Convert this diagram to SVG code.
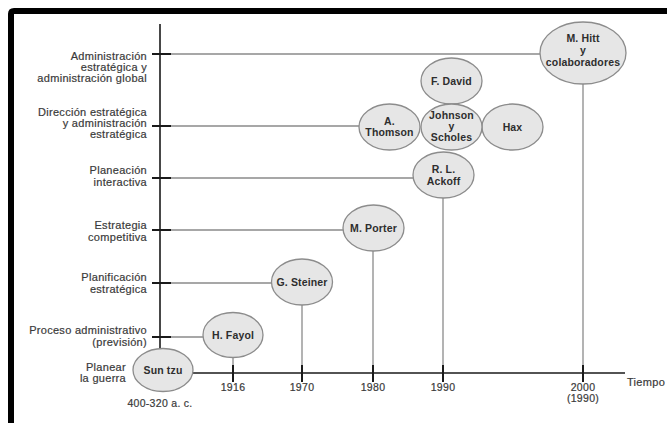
<svg xmlns="http://www.w3.org/2000/svg" width="667" height="423" viewBox="0 0 667 423">
<style>
.lbl{font-family:"Liberation Sans",Arial,sans-serif;font-size:11px;letter-spacing:0.3px;fill:#3a3a3a;stroke:#3a3a3a;stroke-width:0.2;text-anchor:end}
.yr{font-family:"Liberation Sans",Arial,sans-serif;font-size:10.5px;letter-spacing:0.3px;fill:#3a3a3a;stroke:#3a3a3a;stroke-width:0.2;text-anchor:middle}
.nt{font-family:"Liberation Sans",Arial,sans-serif;font-size:10.5px;letter-spacing:0.15px;font-weight:bold;fill:#2e2e2e;text-anchor:middle}
.node ellipse{fill:#e6e6e6;stroke:#8c8c8c;stroke-width:1.3}
.conn{stroke:#8a8a8a;stroke-width:1.3;fill:none}
.axis{stroke:#1a1a1a;stroke-width:1.6;fill:none}
.tick{stroke:#1a1a1a;stroke-width:2;fill:none}
</style>
<rect x="0" y="0" width="667" height="423" fill="#fff"/>
<path d="M11 423 V14 Q11 11 14 11 H667" stroke="#000" stroke-width="6" fill="none"/>

<g id="connectors">
<line class="conn" x1="160" y1="54" x2="540" y2="54"/>
<line class="conn" x1="160" y1="126" x2="359" y2="126"/>
<line class="conn" x1="160" y1="178" x2="413" y2="178"/>
<line class="conn" x1="160" y1="230" x2="343" y2="230"/>
<line class="conn" x1="160" y1="283" x2="272" y2="283"/>
<line class="conn" x1="160" y1="337" x2="203" y2="337"/>
<line class="conn" x1="583" y1="84" x2="583" y2="373"/>
<line class="conn" x1="443" y1="198" x2="443" y2="373"/>
<line class="conn" x1="373" y1="251" x2="373" y2="373"/>
<line class="conn" x1="302" y1="305" x2="302" y2="373"/>
<line class="conn" x1="233" y1="357" x2="233" y2="373"/>
<line class="axis" x1="160" y1="24" x2="160" y2="350"/>
<line class="axis" x1="192" y1="373" x2="625" y2="373"/>
<path class="tick" d="M152 54H171M152 126H171M152 178H171M152 230H171M152 283H171M152 337H171"/>
<path class="tick" d="M233 365V382M302 365V382M373 365V382M443 365V382M583 365V382"/>
</g>

<g id="labels">
<text class="lbl"><tspan x="147" y="60">Administración</tspan><tspan x="147" y="71">estratégica y</tspan><tspan x="147" y="82">administración global</tspan></text>
<text class="lbl"><tspan x="147" y="116">Dirección estratégica</tspan><tspan x="147" y="127">y administración</tspan><tspan x="147" y="138">estratégica</tspan></text>
<text class="lbl"><tspan x="147" y="174">Planeación</tspan><tspan x="147" y="186">interactiva</tspan></text>
<text class="lbl"><tspan x="147" y="229">Estrategia</tspan><tspan x="147" y="241">competitiva</tspan></text>
<text class="lbl"><tspan x="147" y="281">Planificación</tspan><tspan x="147" y="293">estratégica</tspan></text>
<text class="lbl"><tspan x="147" y="334">Proceso administrativo</tspan><tspan x="147" y="346">(previsión)</tspan></text>
<text class="lbl"><tspan x="126" y="371">Planear</tspan><tspan x="126" y="382">la guerra</tspan></text>
<text class="yr" x="160" y="407">400-320 a. c.</text>
<text class="yr" x="233" y="391">1916</text>
<text class="yr" x="302" y="391">1970</text>
<text class="yr" x="373" y="391">1980</text>
<text class="yr" x="443" y="391">1990</text>
<text class="yr"><tspan x="583" y="391">2000</tspan><tspan x="583" y="402">(1990)</tspan></text>
<text class="lbl" x="627" y="386" style="text-anchor:start">Tiempo</text>
</g>

<g id="suntzu" class="node"><ellipse cx="163" cy="370" rx="30" ry="21.5"/><text class="nt" x="163" y="374">Sun tzu</text></g>
<g id="fayol" class="node"><ellipse cx="233" cy="335" rx="30" ry="22.5"/><text class="nt" x="233" y="339">H. Fayol</text></g>
<g id="steiner" class="node"><ellipse cx="302" cy="282" rx="30.5" ry="23"/><text class="nt" x="302" y="286">G. Steiner</text></g>
<g id="porter" class="node"><ellipse cx="373.5" cy="228" rx="30.5" ry="23"/><text class="nt" x="373.5" y="232">M. Porter</text></g>
<g id="ackoff" class="node"><ellipse cx="443.5" cy="175" rx="30.5" ry="23"/><text class="nt"><tspan x="443.5" y="173">R. L.</tspan><tspan x="443.5" y="185">Ackoff</tspan></text></g>
<g id="thomson" class="node"><ellipse cx="389.5" cy="127" rx="30.5" ry="23"/><text class="nt"><tspan x="389.5" y="125">A.</tspan><tspan x="389.5" y="136">Thomson</tspan></text></g>
<g id="hax" class="node"><ellipse cx="512.5" cy="127" rx="30.5" ry="23"/><text class="nt" x="512.5" y="131">Hax</text></g>
<g id="david" class="node"><ellipse cx="451.5" cy="81" rx="30.5" ry="23"/><text class="nt" x="451.5" y="85">F. David</text></g>
<g id="johnson" class="node"><ellipse cx="451.5" cy="127" rx="30.5" ry="23"/><text class="nt"><tspan x="451.5" y="119">Johnson</tspan><tspan x="451.5" y="130">y</tspan><tspan x="451.5" y="141">Scholes</tspan></text></g>
<g id="hitt" class="node"><ellipse cx="583" cy="53" rx="43" ry="31"/><text class="nt"><tspan x="583" y="42">M. Hitt</tspan><tspan x="583" y="54">y</tspan><tspan x="583" y="66">colaboradores</tspan></text></g>
</svg>
